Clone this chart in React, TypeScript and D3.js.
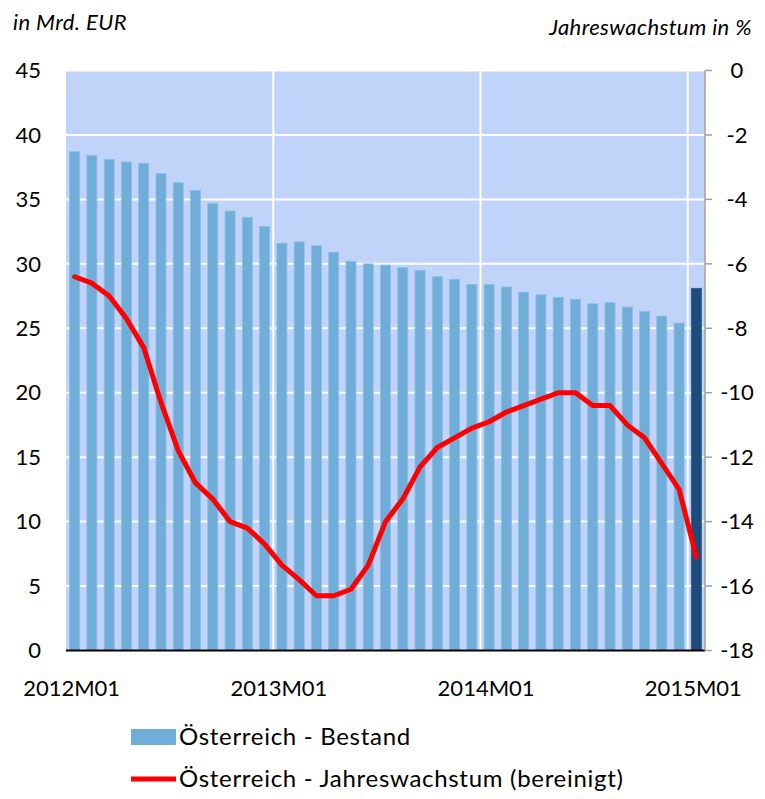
import React from "react";
import * as d3 from "d3";

const categories = [
  "2012M01","2012M02","2012M03","2012M04","2012M05","2012M06","2012M07","2012M08","2012M09","2012M10","2012M11","2012M12",
  "2013M01","2013M02","2013M03","2013M04","2013M05","2013M06","2013M07","2013M08","2013M09","2013M10","2013M11","2013M12",
  "2014M01","2014M02","2014M03","2014M04","2014M05","2014M06","2014M07","2014M08","2014M09","2014M10","2014M11","2014M12",
  "2015M01",
];

const bestand = [
  38.7, 38.4, 38.1, 37.9, 37.8, 37.0, 36.3, 35.7, 34.7, 34.1, 33.6, 32.9,
  31.6, 31.7, 31.4, 30.9, 30.2, 30.0, 29.9, 29.7, 29.5, 29.0, 28.8, 28.4,
  28.4, 28.2, 27.8, 27.6, 27.4, 27.25, 26.9, 27.0, 26.65, 26.3, 25.95, 25.4,
  28.1,
];

const wachstum = [
  -6.4, -6.6, -7.0, -7.7, -8.6, -10.3, -11.8, -12.8, -13.3, -14.0, -14.2, -14.7,
  -15.35, -15.8, -16.3, -16.3, -16.1, -15.35, -14.0, -13.3, -12.3, -11.7, -11.4, -11.1,
  -10.9, -10.6, -10.4, -10.2, -10.0, -10.0, -10.4, -10.4, -11.0, -11.4, -12.2, -13.0,
  -15.1,
];

const xTickLabels = ["2012M01", "2013M01", "2014M01", "2015M01"];
const leftTicks = [0, 5, 10, 15, 20, 25, 30, 35, 40, 45];
const rightTicks = [0, -2, -4, -6, -8, -10, -12, -14, -16, -18];
const yearStarts = ["2013M01", "2014M01", "2015M01"];

const legendLabels = ["Österreich - Bestand", "Österreich - Jahreswachstum (bereinigt)"];

const W = 765;
const H = 799;
const left = 66;
const right = 705;
const top = 70.5;
const bottom = 650.5;

const FONT = "Lato, 'Open Sans', sans-serif";

export default function App() {
  const x = d3
    .scaleBand<string>()
    .domain(categories)
    .range([left, right])
    .paddingInner(0.42)
    .paddingOuter(0.21);
  const step = x.step();
  const bandStart = (c: string) => left + categories.indexOf(c) * step;
  const yL = d3.scaleLinear().domain([0, 45]).range([bottom, top]);
  const yR = d3.scaleLinear().domain([-18, 0]).range([bottom, top]);

  const line = d3
    .line<number>()
    .x((_, i) => (x(categories[i]) as number) + x.bandwidth() / 2)
    .y((d) => yR(d));

  return (
    <svg
      width={W}
      height={H}
      style={{ position: "absolute", left: 0, top: 0, background: "#fff" }}
      fontFamily={FONT}
    >
      <rect x={left} y={top} width={right - left} height={bottom - top} fill="#C0D3F8" />
      {leftTicks.map((t) => (
        <line key={"g" + t} x1={left} x2={right} y1={yL(t)} y2={yL(t)} stroke="#fff" strokeWidth={2} />
      ))}
      {yearStarts.map((c) => (
        <line key={"v" + c} x1={bandStart(c)} x2={bandStart(c)} y1={top} y2={bottom} stroke="#fff" strokeWidth={2} />
      ))}
      {bestand.map((v, i) => (
        <rect
          key={"b" + i}
          x={x(categories[i])}
          y={yL(v)}
          width={x.bandwidth()}
          height={yL(0) - yL(v)}
          fill={i === bestand.length - 1 ? "#1F4A7C" : "#70ADD9"}
          stroke={i === bestand.length - 1 ? "#2B5A90" : "#8CBDE4"}
          strokeWidth={0.8}
        />
      ))}
      <path d={line(wachstum) || ""} fill="none" stroke="#FF0000" strokeWidth={5} strokeLinejoin="round" strokeLinecap="round" />
      <line x1={left} x2={right} y1={bottom} y2={bottom} stroke="#000" strokeWidth={2} />
      <line x1={right} x2={right} y1={top} y2={bottom} stroke="#A0A0A0" strokeWidth={1.5} />
      {rightTicks.map((t) => (
        <g key={"r" + t}>
          <line x1={right} x2={right + 7} y1={yR(t)} y2={yR(t)} stroke="#A0A0A0" strokeWidth={1.5} />
          <text x={737} y={yR(t)} dy="0.35em" textAnchor="middle" fontSize={22} fill="#000">
            {t}
          </text>
        </g>
      ))}
      {leftTicks.map((t) => (
        <text key={"l" + t} x={41} y={yL(t)} dy="0.35em" textAnchor="end" fontSize={22} fill="#000">
          {t}
        </text>
      ))}
      {xTickLabels.map((c) => (
        <text
          key={"x" + c}
          x={(x(c) as number) + x.bandwidth() / 2 - 3}
          y={688}
          dy="0.35em"
          textAnchor="middle"
          fontSize={22}
          fill="#000"
        >
          {c}
        </text>
      ))}
      <text x={13} y={22} dy="0.35em" fontSize={22} letterSpacing={0.4} fontStyle="italic" fill="#000">
        in Mrd. EUR
      </text>
      <text x={752} y={27} dy="0.35em" textAnchor="end" fontSize={22} letterSpacing={0.4} fontStyle="italic" fill="#000">
        Jahreswachstum in %
      </text>
      <rect x={131} y={729} width={45} height={16} fill="#70ADD9" />
      <text x={179} y={737} dy="0.35em" fontSize={24} letterSpacing={0.7} fill="#000">
        {legendLabels[0]}
      </text>
      <line x1={131} x2={176} y1={779} y2={779} stroke="#FF0000" strokeWidth={5} />
      <text x={179} y={779} dy="0.35em" fontSize={24} letterSpacing={0.7} fill="#000">
        {legendLabels[1]}
      </text>
    </svg>
  );
}
